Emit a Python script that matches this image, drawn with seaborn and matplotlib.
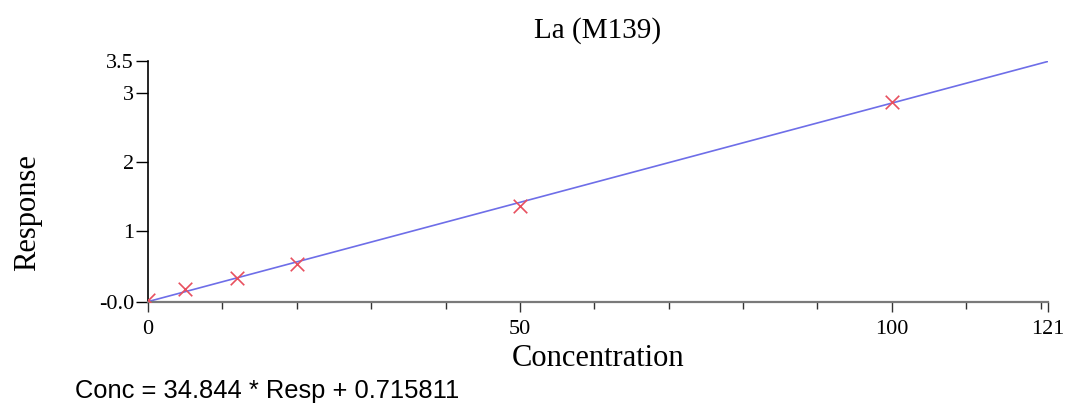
import numpy as np
import pandas as pd
import matplotlib
matplotlib.use("Agg")
import matplotlib.pyplot as plt
import seaborn as sns

# Datos de calibracion
conc = [0, 5, 12, 20, 50, 100]
resp = [0.01, 0.157, 0.325, 0.518, 1.36, 2.87]

# Ecuacion de la curva: Conc = pendiente * Resp + intercepto
pendiente = 34.844
intercepto = 0.715811
conc_max = 121

x_ticks = [0, 50, 100, 121]
x_minor = [10, 20, 30, 40, 60, 70, 80, 90, 110, 120]
y_ticks = [1, 2, 3]

#------------------------------------------------------------
sns.set_style("white")
plt.rcParams['font.family'] = ['Liberation Serif', 'DejaVu Serif']
plt.rcParams['text.color'] = 'black'
plt.rcParams['axes.labelcolor'] = 'black'
plt.rcParams['xtick.labelcolor'] = 'black'
plt.rcParams['ytick.labelcolor'] = 'black'

df = pd.DataFrame({'Concentration': conc, 'Response': resp})
linea = pd.DataFrame({'Concentration': [0, conc_max]})
linea['Response'] = (linea['Concentration'] - intercepto) / pendiente

fig = plt.figure(figsize=(10.74, 4.13), dpi=100)
ax = fig.add_axes([0.1378, 0.2697, 0.8380, 0.5816])

sns.lineplot(data=linea, x='Concentration', y='Response', ax=ax,
             color='#6e6ee8', linewidth=1.2)
sns.scatterplot(data=df, x='Concentration', y='Response', ax=ax,
                marker='x', s=95, color='#e8505f', linewidth=1.2, zorder=3)

y0 = linea['Response'].iloc[0]
y1 = linea['Response'].iloc[-1]
ax.set_xlim(0, conc_max)
ax.set_ylim(y0, y1)

ax.set_xticks(x_ticks)
ax.set_xticklabels([str(t) for t in x_ticks])
ax.set_xticks(x_minor, minor=True)
ax.set_yticks([y0] + y_ticks + [y1])
ax.set_yticklabels([f"{y0:.1f}"] + [str(t) for t in y_ticks] + [f"{y1:.1f}"])

ax.tick_params(axis='x', which='major', direction='out', length=7, width=1,
               labelsize=16, pad=6, color='#333333', labelcolor='black', bottom=True)
ax.tick_params(axis='x', which='minor', direction='out', length=5, width=1,
               color='#333333', bottom=True)
ax.tick_params(axis='y', which='major', direction='out', length=9, width=1,
               labelsize=16, pad=1, color='black', labelcolor='black', left=True)

for s in ['top', 'right']:
    ax.spines[s].set_visible(False)
ax.spines['left'].set_color('black')
ax.spines['left'].set_linewidth(1.2)
ax.spines['bottom'].set_color('#7a7a7a')
ax.spines['bottom'].set_linewidth(1.6)

ax.set_xlabel('Concentration', fontsize=22, labelpad=4, color='black')
ax.set_ylabel('Response', fontsize=22, color='black')
ax.yaxis.set_label_coords(-0.118, 0.369)
ax.set_title('La (M139)', fontsize=21, pad=17, color='black')

fig.text(75 / 1074, 1 - 398 / 413, 'Conc = 34.844 * Resp + 0.715811',
         fontsize=18.4, family=['Liberation Sans', 'DejaVu Sans'],
         ha='left', va='baseline', color='black')

fig.savefig('out.png', dpi=100)
